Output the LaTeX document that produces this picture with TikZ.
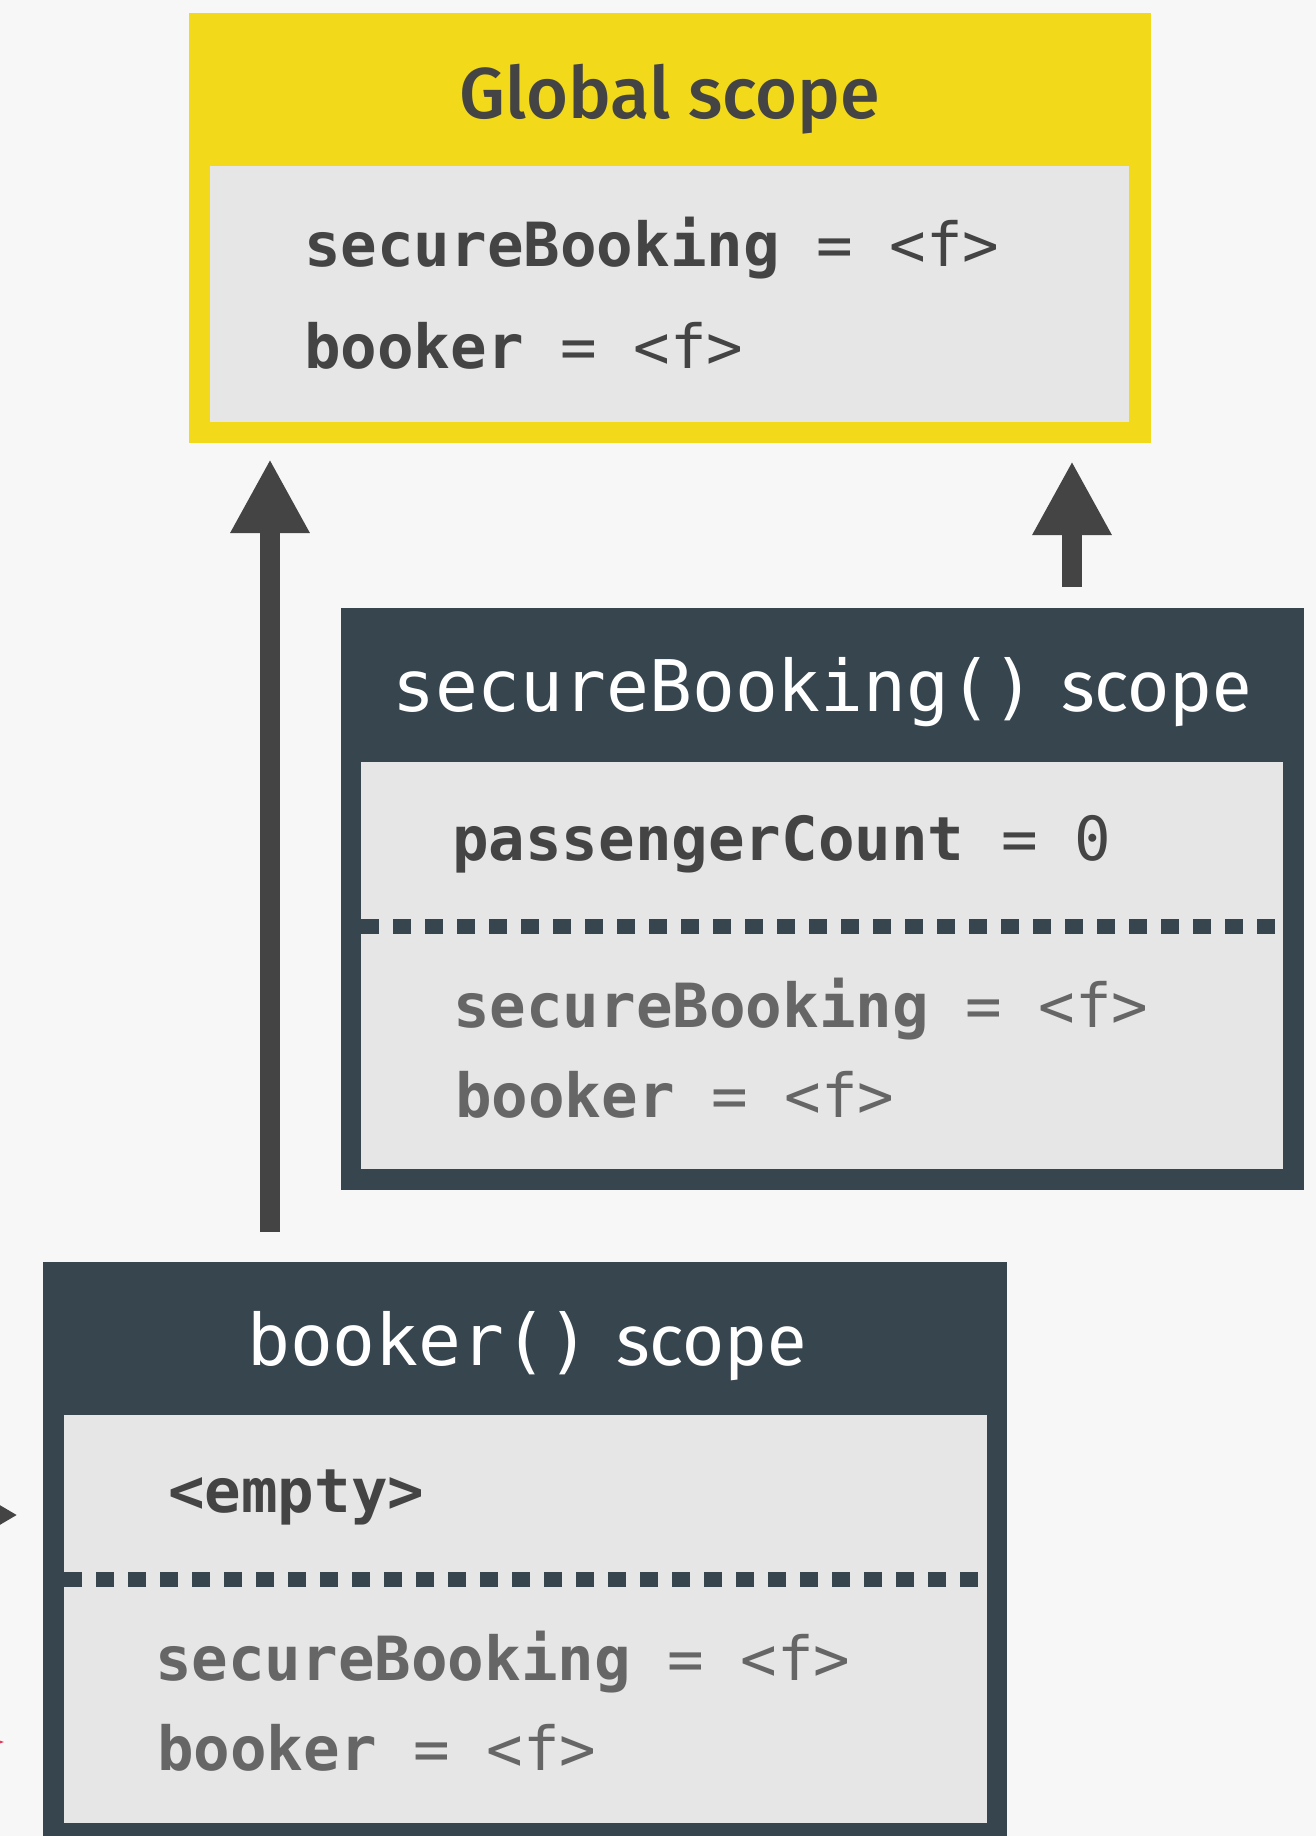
\documentclass[tikz,border=0pt]{standalone}
\usepackage{fontspec}
\usetikzlibrary{arrows.meta}
\newfontfamily\codefont{DejaVu Sans Mono}
\newfontfamily\headfont{Fira Sans Medium}
\newfontfamily\scopefont{Fira Sans}
\definecolor{bg}{HTML}{F7F7F7}
\definecolor{gyellow}{HTML}{F2DA1B}
\definecolor{slate}{HTML}{37454F}
\definecolor{panel}{HTML}{E6E6E6}
\definecolor{ink}{HTML}{444444}
\definecolor{inherit}{HTML}{666666}
\definecolor{arrowc}{HTML}{444444}
\definecolor{redmark}{HTML}{E83A5F}
\begin{document}
\begin{tikzpicture}[x=0.5pt,y=-0.5pt,
  box/.style={inner sep=0pt, outer sep=0pt, anchor=north west, draw=none},
  code/.style={inner sep=0pt, outer sep=0pt, anchor=base west, font={\codefont\fontsize{30.4pt}{34pt}\selectfont}, text=ink},
  inh/.style={code, text=inherit},
  headtxt/.style={inner sep=0pt, anchor=base, text=white},
  sepline/.style={slate, line width=7.5pt, dash pattern=on 9pt off 7pt},
  bigarrow/.style={arrowc, line width=10pt, -{Triangle[width=37pt,length=37pt]}}]
\useasboundingbox (0,0) rectangle (1316,1836);
\begin{scope}
\clip (0,0) rectangle (1316,1836);
\fill[bg] (0,0) rectangle (1316,1836);

% Global scope
\node[box, fill=gyellow, minimum width=481pt, minimum height=215pt] (gout) at (189,13) {};
\node[box, fill=panel, minimum width=459.5pt, minimum height=128pt] (gin) at (210,166) {};
\node[headtxt, text=ink, font={\headfont\fontsize{36pt}{40pt}\selectfont}] (gt) at (670,118) {Global scope};
\node[code] (g1) at (304,266) {{\bfseries secureBooking} = <f>};
\node[code] (g2) at (304,368) {{\bfseries booker} = <f>};

% secureBooking() scope
\node[box, fill=slate, minimum width=481.5pt, minimum height=291pt] (sbout) at (341,608) {};
\node[box, fill=panel, minimum width=461pt, minimum height=203.5pt] (sbin) at (361,762) {};
\node[headtxt] (sbt) at (822,711) {{\codefont\fontsize{35.6pt}{40pt}\selectfont secureBooking()}\hspace{13pt}{\scopefont\fontsize{36pt}{40pt}\selectfont scope}};
\node[code] (s1) at (452,860) {{\bfseries passengerCount} = 0};
\coordinate (sbsep) at (0,926);
\draw[sepline] (sbin.west |- sbsep) -- (sbin.east |- sbsep);
\node[inh] (s2) at (453,1027) {{\bfseries secureBooking} = <f>};
\node[inh] (s3) at (455,1117) {{\bfseries booker} = <f>};

% booker() scope
\node[box, fill=slate, minimum width=482pt, minimum height=300pt] (bkout) at (43,1262) {};
\node[box, fill=panel, minimum width=461.5pt, minimum height=204pt] (bkin) at (64,1415) {};
\node[headtxt] (bkt) at (527,1365) {{\codefont\fontsize{35.6pt}{40pt}\selectfont booker()}\hspace{13pt}{\scopefont\fontsize{36pt}{40pt}\selectfont scope}};
\node[code] (b1) at (168,1512) {\bfseries <empty>};
\coordinate (bksep) at (0,1579);
\draw[sepline] (bkin.west |- bksep) -- (bkin.east |- bksep);
\node[inh] (b2) at (155,1680) {{\bfseries secureBooking} = <f>};
\node[inh] (b3) at (157,1770) {{\bfseries booker} = <f>};

% scope chain arrows
\coordinate (lx) at (270,0);
\coordinate (rx) at (1072,0);
\draw[bigarrow, shorten <=15pt, shorten >=8pt] (bkout.north west -| lx) -- (gout.south west -| lx);
\draw[bigarrow, shorten <=10.5pt, shorten >=9pt] (sbout.north west -| rx) -- (gout.south west -| rx);

% cut-off elements at the left edge
\coordinate (offa) at (-90,1515);
\draw[arrowc, line width=4pt, -{Triangle[width=21pt,length=19pt]}, shorten >=13pt] (offa) -- (bkout.north west |- offa);
\fill[redmark] (4,1742) -- (-10,1737) -- (-10,1747) -- cycle;
\end{scope}
\end{tikzpicture}
\end{document}
